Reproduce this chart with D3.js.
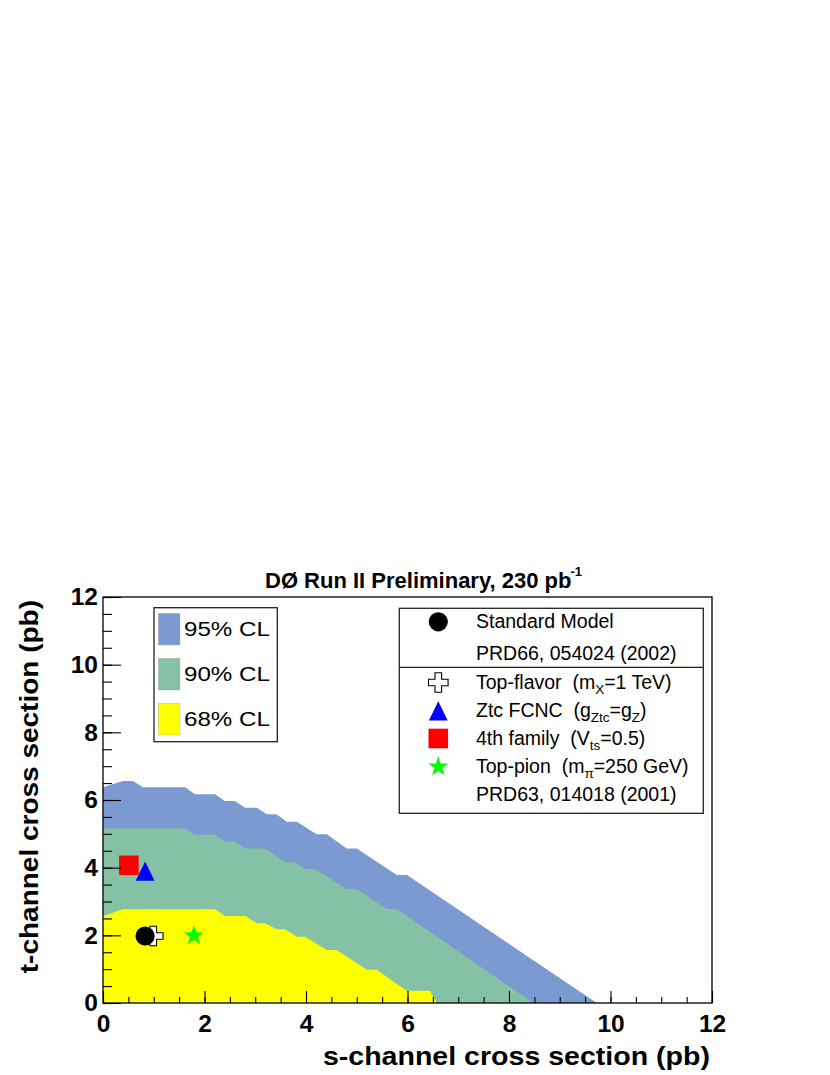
<!DOCTYPE html>
<html>
<head>
<meta charset="utf-8">
<script src="https://cdn.jsdelivr.net/npm/d3@7"></script>
<style>
  html, body { margin: 0; padding: 0; background: #fff; }
  svg { display: block; }
  text { font-family: "Liberation Sans", Arial, Helvetica, sans-serif; fill: #000; }
</style>
</head>
<body>
<script>
// ---------- data ----------
const xTickLabels = [0, 2, 4, 6, 8, 10, 12];
const yTickLabels = [0, 2, 4, 6, 8, 10, 12];
const minorTicks = d3.range(0, 12.01, 0.5);

// upper boundaries of the confidence regions: [s-channel pb, t-channel pb]
const band95 = [[0,6.38],[0.39,6.56],[0.59,6.56],[0.79,6.38],[1.62,6.38],[1.81,6.17],[2.21,6.17],[2.40,5.97],[2.60,5.97],[2.80,5.77],[3.03,5.77],[3.23,5.58],[3.42,5.58],[3.62,5.36],[3.82,5.36],[4.21,4.99],[4.41,4.99],[4.80,4.57],[5.00,4.57],[5.79,3.78],[5.99,3.78],[9.73,0]];
const band90 = [[0,5.16],[1.62,5.16],[1.81,4.97],[2.21,4.97],[2.40,4.77],[2.60,4.77],[2.80,4.57],[3.19,4.57],[3.59,4.16],[3.78,4.16],[3.98,3.96],[4.18,3.96],[4.80,3.37],[5.00,3.37],[5.59,2.78],[5.79,2.78],[8.48,0]];
const band68 = [[0,2.57],[0.39,2.77],[2.21,2.77],[2.40,2.57],[2.80,2.57],[3.03,2.36],[3.19,2.36],[3.42,2.18],[3.59,2.18],[3.82,1.96],[3.98,1.96],[4.41,1.57],[4.60,1.57],[5.20,0.98],[5.39,0.98],[5.98,0.36],[6.44,0.36],[6.58,0]];

const clLabels = ["95% CL", "90% CL", "68% CL"];
const clColors = ["#7b9ad2", "#85c2a5", "#ffff00"];

// theory points (drawing order: cross under circle)
const modelKeys   = ["topflavor", "sm", "ztc", "fourth", "toppion"];
const modelS      = [0.99, 0.83, 0.83, 0.51, 1.79];
const modelT      = [1.98, 1.98, 3.90, 4.07, 1.99];
const modelShapes = ["cross", "circle", "triangle", "square", "star"];
const modelColors = ["#ffffff", "#000000", "#0000ff", "#ff0000", "#00ff00"];

// ---------- layout ----------
const W = 830, H = 1075;
const x = d3.scaleLinear().domain([0, 12]).range([103, 712]);
const y = d3.scaleLinear().domain([0, 12]).range([1003, 597]);

const svg = d3.select("body").append("svg").attr("width", W).attr("height", H);
svg.append("rect").attr("width", W).attr("height", H).attr("fill", "#fff");

// ---------- bands ----------
const line = d3.line().x(d => x(d[0])).y(d => y(d[1]));
[band95, band90, band68].forEach((b, i) => {
  const poly = b.concat([[0, 0]]);
  svg.append("path").attr("d", line(poly) + "Z").attr("fill", clColors[i]);
});

// ---------- markers ----------
function starPath(R, r) {
  const pts = [];
  for (let k = 0; k < 10; k++) {
    const ang = -Math.PI / 2 + k * Math.PI / 5;
    const rad = k % 2 === 0 ? R : r;
    pts.push([rad * Math.cos(ang), rad * Math.sin(ang)]);
  }
  return "M" + pts.map(p => p[0].toFixed(2) + "," + p[1].toFixed(2)).join("L") + "Z";
}
function crossPath(R, a) {
  return `M${-a},${-R}L${a},${-R}L${a},${-a}L${R},${-a}L${R},${a}L${a},${a}L${a},${R}L${-a},${R}L${-a},${a}L${-R},${a}L${-R},${-a}L${-a},${-a}Z`;
}
function drawMarker(g, shape, color) {
  if (shape === "circle") g.append("circle").attr("r", 9.6).attr("fill", color);
  else if (shape === "square") g.append("rect").attr("x", -9.8).attr("y", -9.8).attr("width", 19.6).attr("height", 19.6).attr("fill", color);
  else if (shape === "triangle") g.append("path").attr("d", "M0,-9.6L9.4,9.6L-9.4,9.6Z").attr("fill", color);
  else if (shape === "star") g.append("path").attr("d", starPath(10.5, 4.1)).attr("fill", color);
  else if (shape === "cross") g.append("path").attr("d", crossPath(9.8, 3.3)).attr("fill", color).attr("stroke", "#000").attr("stroke-width", 1.1);
}
modelKeys.forEach((k, i) => {
  const g = svg.append("g").attr("transform", `translate(${x(modelS[i])},${y(modelT[i])})`);
  drawMarker(g, modelShapes[i], modelColors[i]);
});

// ---------- axes ----------
const tickFont = g => g.selectAll("text").attr("font-size", 24.5).attr("font-weight", "bold")
  .attr("font-family", "'Liberation Sans', Arial, Helvetica, sans-serif").attr("fill", "#000");

const yAxisMinor = svg.append("g").attr("transform", "translate(103,0)")
  .call(d3.axisLeft(y).tickValues(minorTicks).tickSizeInner(-9).tickSizeOuter(0).tickFormat(""));
const yAxis = svg.append("g").attr("transform", "translate(103,0)")
  .call(d3.axisLeft(y).tickValues(yTickLabels).tickSizeInner(-18).tickSizeOuter(0).tickPadding(5).tickFormat(d3.format("d")));
const xAxisMinor = svg.append("g").attr("transform", "translate(0,1003)")
  .call(d3.axisBottom(x).tickValues(minorTicks).tickSizeInner(-6).tickSizeOuter(0).tickFormat(""));
const xAxis = svg.append("g").attr("transform", "translate(0,1003)")
  .call(d3.axisBottom(x).tickValues(xTickLabels).tickSizeInner(-12).tickSizeOuter(0).tickPadding(12).tickFormat(d3.format("d")));
[yAxisMinor, yAxis, xAxisMinor, xAxis].forEach(g => {
  g.select(".domain").remove();
  g.selectAll("line").attr("stroke", "#000").attr("stroke-width", 1.1);
  tickFont(g);
});

// frame
svg.append("rect").attr("x", 103).attr("y", 597).attr("width", 609).attr("height", 406)
  .attr("fill", "none").attr("stroke", "#000").attr("stroke-width", 1.3);

// ---------- titles ----------
const title = svg.append("text").attr("x", 265).attr("y", 588)
  .attr("font-size", 22).attr("font-weight", "bold");
title.append("tspan").text("DØ Run II Preliminary, 230 pb");
title.append("tspan").attr("font-size", 13).attr("dy", -12).attr("dx", -1).text("-1");

svg.append("text").attr("transform", "translate(710,1065) scale(1.12,1)")
  .attr("text-anchor", "end").attr("font-size", 25.5).attr("font-weight", "bold")
  .text("s-channel cross section (pb)");
svg.append("text").attr("transform", "translate(38,600) rotate(-90) scale(1.12,1)")
  .attr("text-anchor", "end").attr("font-size", 25).attr("font-weight", "bold")
  .text("t-channel cross section (pb)");

// ---------- CL legend ----------
svg.append("rect").attr("x", 154).attr("y", 607.7).attr("width", 123.3).attr("height", 134)
  .attr("fill", "#fff").attr("stroke", "#222").attr("stroke-width", 1.3);
clLabels.forEach((lab, i) => {
  const top = 613.3 + i * 45;
  svg.append("rect").attr("x", 158.3).attr("y", top).attr("width", 21.7).attr("height", 31.7)
    .attr("fill", clColors[i]).attr("stroke", "#aaa").attr("stroke-width", 0.4);
  svg.append("text").attr("transform", `translate(184,${top + 22.8}) scale(1.15,1)`)
    .attr("font-size", 21).text(lab);
});

// ---------- model legend ----------
svg.append("rect").attr("x", 399.3).attr("y", 608.3).attr("width", 304).attr("height", 205)
  .attr("fill", "#fff").attr("stroke", "#222").attr("stroke-width", 1.3);
svg.append("line").attr("x1", 399.3).attr("x2", 703.3).attr("y1", 667.3).attr("y2", 667.3)
  .attr("stroke", "#222").attr("stroke-width", 1.3);

const legendRows = [
  { shape: "circle",   color: "#000000", base: 628.3, parts: [["Standard Model"]] },
  { shape: null,       color: null,      base: 660,   parts: [["PRD66, 054024 (2002)"]] },
  { shape: "cross",    color: "#ffffff", base: 689,   parts: [["Top-flavor  (m"], ["X", "sub"], ["=1 TeV)"]] },
  { shape: "triangle", color: "#0000ff", base: 717.3, parts: [["Ztc FCNC  (g"], ["Ztc", "sub"], ["=g"], ["Z", "sub"], [")"]] },
  { shape: "square",   color: "#ff0000", base: 745,   parts: [["4th family  (V"], ["ts", "sub"], ["=0.5)"]] },
  { shape: "star",     color: "#00ff00", base: 773.3, parts: [["Top-pion  (m"], ["π", "sub"], ["=250 GeV)"]] },
  { shape: null,       color: null,      base: 800.7, parts: [["PRD63, 014018 (2001)"]] }
];
legendRows.forEach(row => {
  if (row.shape) {
    const g = svg.append("g").attr("transform", `translate(438.3,${row.base - 6.5})`);
    drawMarker(g, row.shape, row.color);
  }
  const t = svg.append("text").attr("x", 476).attr("y", row.base).attr("font-size", 19.5)
    .style("white-space", "pre");
  let shifted = false;
  row.parts.forEach(p => {
    const ts = t.append("tspan").text(p[0]);
    if (p[1] === "sub") { ts.attr("font-size", 13.5).attr("dy", 5); shifted = true; }
    else if (shifted) { ts.attr("dy", -5); shifted = false; }
  });
});
</script>
</body>
</html>
